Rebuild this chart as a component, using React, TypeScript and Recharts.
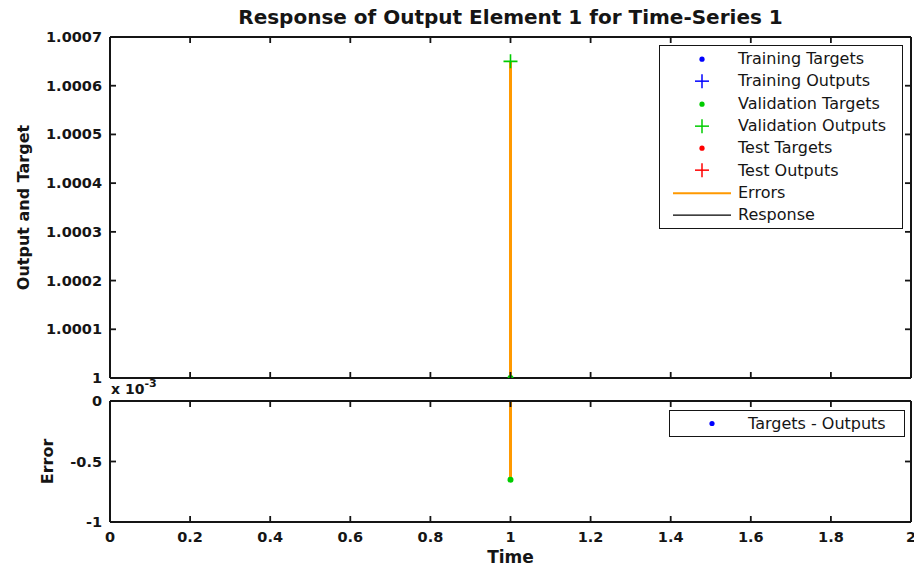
import React from "react";
import { ComposedChart, Legend, Line, Scatter, XAxis, YAxis } from "recharts";

const chartTitle = "Response of Output Element 1 for Time-Series 1";
const timeTicks = [0, 0.2, 0.4, 0.6, 0.8, 1, 1.2, 1.4, 1.6, 1.8, 2];
const responseTicks = [1, 1.0001, 1.0002, 1.0003, 1.0004, 1.0005, 1.0006, 1.0007];
const errorTicks = [-0.001, -0.0005, 0];

// one validation sample at t = 1
const validationTargets = [{ time: 1, value: 1 }];
const validationOutputs = [{ time: 1, value: 1.00065 }];
const responseErrors = [
  { time: 1, value: 1 },
  { time: 1, value: 1.00065 },
];
const errorPoints = [{ time: 1, value: -0.00065 }];
const errorStem = [
  { time: 1, value: 0 },
  { time: 1, value: -0.00065 },
];

const responseLegend = [
  { name: "Training Targets", color: "#0000ff", marker: "dot" },
  { name: "Training Outputs", color: "#0000ff", marker: "plus" },
  { name: "Validation Targets", color: "#00cc00", marker: "dot" },
  { name: "Validation Outputs", color: "#00cc00", marker: "plus" },
  { name: "Test Targets", color: "#ff0000", marker: "dot" },
  { name: "Test Outputs", color: "#ff0000", marker: "plus" },
  { name: "Errors", color: "#ff9900", marker: "line" },
  { name: "Response", color: "#000000", marker: "line" },
];
const errorLegend = [{ name: "Targets - Outputs", color: "#0000ff", marker: "dot" }];

const INK = "#151515";
const GREEN = "#00cc00";
const ORANGE = "#ff9900";
const BOLD: React.CSSProperties = { fontFamily: "'DejaVu Sans', sans-serif", fontWeight: 700 };

const fmtTime = (v: number) => String(v);
const fmtResponse = (v: number) => (v === 1 ? "1" : v.toFixed(4));
const fmtError = (v: number) => String(Math.round(v * 1e4) / 10);

// MATLAB-style inward ticks; axis tickSize is 0 so x/y sit on the axis line
const xTick = (dir: number, fmt?: (v: number) => string) => (p: any) => (
  <g>
    <line x1={p.x} x2={p.x} y1={p.y} y2={p.y + dir * 6} stroke={INK} strokeWidth={1.8} />
    {fmt && (
      <text x={p.x} y={p.y + 20} textAnchor="middle" fontSize={14.5} fill={INK} style={BOLD}>
        {fmt(p.payload.value)}
      </text>
    )}
  </g>
);

const yTick = (dir: number, fmt?: (v: number) => string) => (p: any) => (
  <g>
    <line x1={p.x} x2={p.x + dir * 6} y1={p.y} y2={p.y} stroke={INK} strokeWidth={1.8} />
    {fmt && (
      <text x={p.x - 8} y={p.y + 5} textAnchor="end" fontSize={14.5} fill={INK} style={BOLD}>
        {fmt(p.payload.value)}
      </text>
    )}
  </g>
);

const yTitle = (text: string, x: number) => (p: any) => {
  const vb = p.viewBox;
  const cy = vb.y + vb.height / 2;
  return (
    <text
      x={x}
      y={cy}
      transform={`rotate(-90 ${x} ${cy})`}
      textAnchor="middle"
      dominantBaseline="central"
      fontSize={16}
      fill={INK}
      style={BOLD}
    >
      {text}
    </text>
  );
};

const dotShape = (color: string) => (p: any) => <circle cx={p.cx} cy={p.cy} r={3} fill={color} />;
const plusShape = (color: string) => (p: any) => (
  <g stroke={color} strokeWidth={1.6}>
    <line x1={p.cx - 7} x2={p.cx + 7} y1={p.cy} y2={p.cy} />
    <line x1={p.cx} x2={p.cx} y1={p.cy - 7} y2={p.cy + 7} />
  </g>
);

function Marker({ kind, color, h }: { kind: string; color: string; h: number }) {
  const c = h / 2;
  if (kind === "dot") return <circle cx={42} cy={c} r={2.6} fill={color} />;
  if (kind === "plus")
    return (
      <g stroke={color} strokeWidth={1.5}>
        <line x1={35} x2={49} y1={c} y2={c} />
        <line x1={42} x2={42} y1={c - 7} y2={c + 7} />
      </g>
    );
  return <line x1={13} x2={71} y1={c} y2={c} stroke={color} strokeWidth={color === "#000000" ? 1.4 : 2} />;
}

function LegendBox({ items, rowH, pad }: { items: typeof responseLegend; rowH: number; pad: number }) {
  return (
    <div
      style={{
        border: `1.5px solid ${INK}`,
        background: "#fff",
        padding: `${pad}px 0`,
        boxSizing: "border-box",
      }}
    >
      {items.map((it) => (
        <div key={it.name} style={{ display: "flex", alignItems: "center", height: rowH }}>
          <svg width={78} height={rowH} style={{ flex: "none" }}>
            <Marker kind={it.marker} color={it.color} h={rowH} />
          </svg>
          <span
            style={{
              fontFamily: "'DejaVu Sans', sans-serif",
              fontSize: 16,
              color: INK,
              whiteSpace: "nowrap",
              lineHeight: 1,
            }}
          >
            {it.name}
          </span>
        </div>
      ))}
    </div>
  );
}

const axisLine = { stroke: INK, strokeWidth: 2 };

export default function App() {
  return (
    <div style={{ position: "absolute", left: 0, top: 0, width: 914, height: 569, background: "#fff" }}>
      <div style={{ position: "absolute", left: 0, top: 0 }}>
        <ComposedChart width={914} height={390} margin={{ top: 36, right: 2, bottom: 11, left: 0 }}>
          <XAxis
            dataKey="time"
            type="number"
            domain={[0, 2]}
            ticks={timeTicks}
            interval={0}
            height={1}
            tickSize={0}
            tickMargin={0}
            axisLine={axisLine}
            tick={xTick(-1)}
          />
          <XAxis
            xAxisId="top"
            dataKey="time"
            orientation="top"
            type="number"
            domain={[0, 2]}
            ticks={timeTicks}
            interval={0}
            height={1}
            tickSize={0}
            tickMargin={0}
            axisLine={axisLine}
            tick={xTick(1)}
            label={(p: any) => (
              <text
                x={p.viewBox.x + p.viewBox.width / 2}
                y={17}
                textAnchor="middle"
                dominantBaseline="central"
                fontSize={20}
                fill={INK}
                style={BOLD}
              >
                {chartTitle}
              </text>
            )}
          />
          <YAxis
            type="number"
            domain={[1, 1.0007]}
            ticks={responseTicks}
            interval={0}
            allowDataOverflow
            width={110}
            tickSize={0}
            tickMargin={0}
            axisLine={axisLine}
            tick={yTick(1, fmtResponse)}
            label={yTitle("Output and Target", 23)}
          />
          <YAxis
            yAxisId="right"
            orientation="right"
            type="number"
            domain={[1, 1.0007]}
            ticks={responseTicks}
            interval={0}
            allowDataOverflow
            width={1}
            tickSize={0}
            tickMargin={0}
            axisLine={axisLine}
            tick={yTick(-1)}
          />
          <Legend
            layout="vertical"
            align="center"
            verticalAlign="middle"
            wrapperStyle={{ left: 659, top: 45, width: 244 }}
            content={() => <LegendBox items={responseLegend} rowH={22.3} pad={2} />}
          />
          <Line
            data={responseErrors}
            dataKey="value"
            stroke={ORANGE}
            strokeWidth={3}
            dot={false}
            isAnimationActive={false}
          />
          <Scatter data={validationTargets} dataKey="value" shape={dotShape(GREEN)} isAnimationActive={false} />
          <Scatter
            data={validationOutputs}
            dataKey="value"
            xAxisId="top"
            yAxisId="right"
            shape={plusShape(GREEN)}
            isAnimationActive={false}
          />
        </ComposedChart>
      </div>

      <div style={{ position: "absolute", left: 0, top: 380 }}>
        <ComposedChart width={914} height={189} margin={{ top: 20, right: 2, bottom: 0, left: 0 }}>
          <XAxis
            dataKey="time"
            type="number"
            domain={[0, 2]}
            ticks={timeTicks}
            interval={0}
            height={47}
            tickSize={0}
            tickMargin={0}
            axisLine={axisLine}
            tick={xTick(-1, fmtTime)}
            label={(p: any) => (
              <text
                x={p.viewBox.x + p.viewBox.width / 2}
                y={p.viewBox.y + 35}
                textAnchor="middle"
                dominantBaseline="central"
                fontSize={17}
                fill={INK}
                style={BOLD}
              >
                Time
              </text>
            )}
          />
          <XAxis
            xAxisId="top"
            dataKey="time"
            orientation="top"
            type="number"
            domain={[0, 2]}
            ticks={timeTicks}
            interval={0}
            height={1}
            tickSize={0}
            tickMargin={0}
            axisLine={axisLine}
            tick={xTick(1)}
          />
          <YAxis
            type="number"
            domain={[-0.001, 0]}
            ticks={errorTicks}
            interval={0}
            allowDataOverflow
            width={110}
            tickSize={0}
            tickMargin={0}
            axisLine={axisLine}
            tick={yTick(1, fmtError)}
            label={yTitle("Error", 47)}
          />
          <YAxis
            yAxisId="right"
            orientation="right"
            type="number"
            domain={[-0.001, 0]}
            ticks={errorTicks}
            interval={0}
            allowDataOverflow
            width={1}
            tickSize={0}
            tickMargin={0}
            axisLine={axisLine}
            tick={yTick(-1)}
          />
          <Legend
            layout="vertical"
            align="center"
            verticalAlign="middle"
            wrapperStyle={{ left: 669, top: 30, width: 236 }}
            content={() => <LegendBox items={errorLegend} rowH={23} pad={1} />}
          />
          <Line
            data={errorStem}
            dataKey="value"
            stroke={ORANGE}
            strokeWidth={3}
            dot={false}
            isAnimationActive={false}
          />
          <Scatter
            data={errorPoints}
            dataKey="value"
            xAxisId="top"
            yAxisId="right"
            shape={dotShape(GREEN)}
            isAnimationActive={false}
          />
        </ComposedChart>
        <div
          style={{
            position: "absolute",
            left: 111,
            top: 1,
            fontSize: 14,
            color: INK,
            whiteSpace: "nowrap",
            ...BOLD,
          }}
        >
          x 10<span style={{ fontSize: 11, position: "relative", top: -7 }}>-3</span>
        </div>
      </div>
    </div>
  );
}
